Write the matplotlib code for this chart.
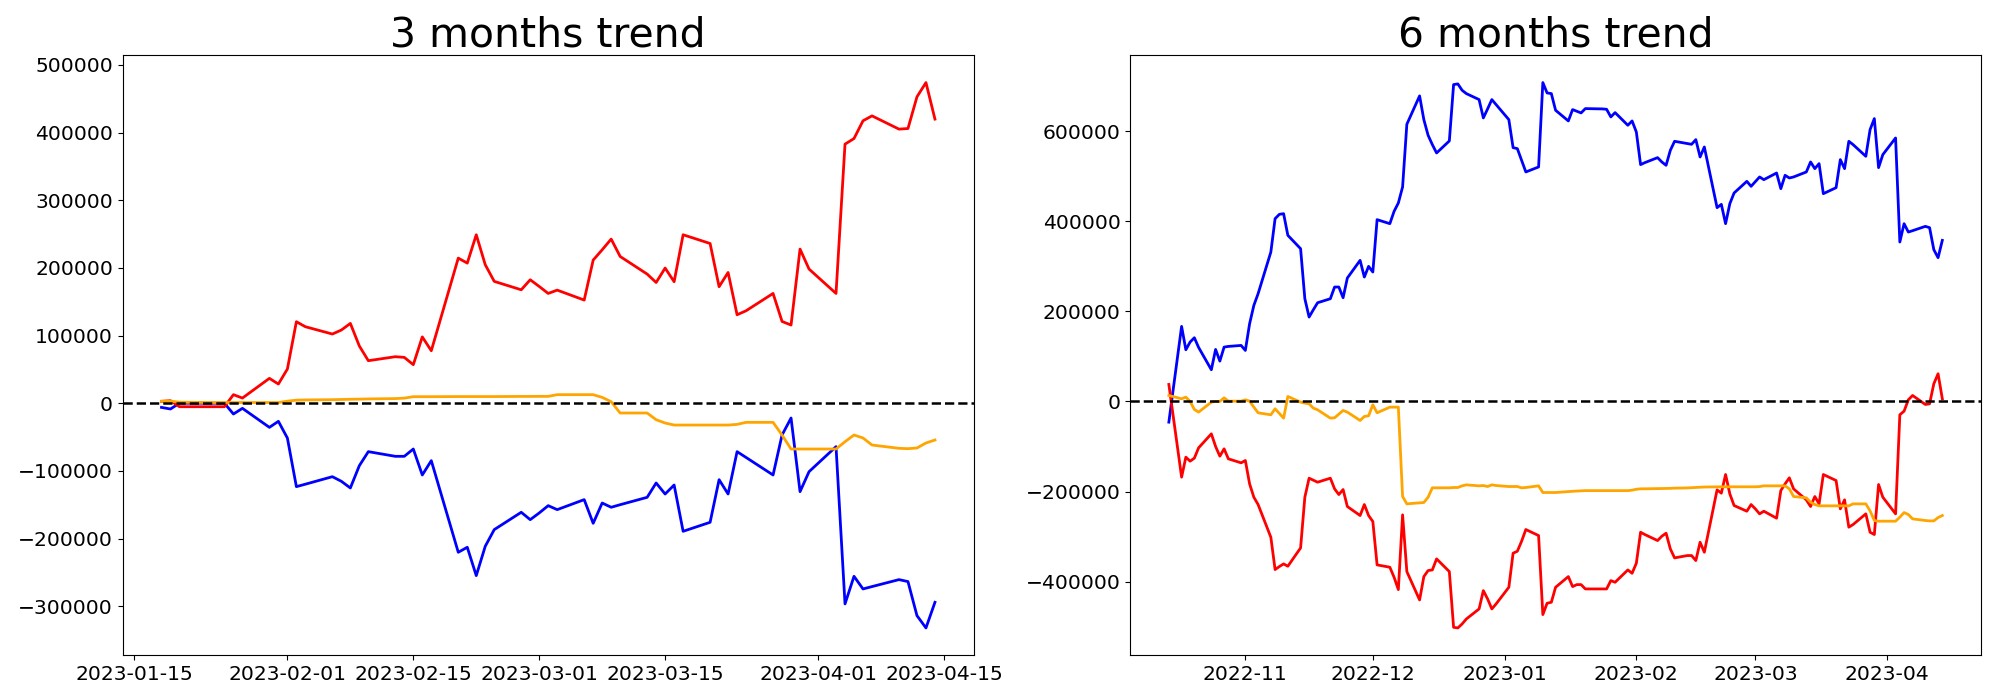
import numpy as np
import pandas as pd
import matplotlib
matplotlib.use("Agg")
import matplotlib.pyplot as plt

# business days shown in each panel
dates_3m = pd.bdate_range("2023-01-18", "2023-04-14")
dates_6m = pd.bdate_range("2022-10-14", "2023-04-14")

# 3 months window
blue_3m = [
    -6200, -8600, 0, 0, 0, 0, -16000, -7600, -35700, -26800,
    -51500, -123300, -119700, -108600, -115400, -125300, -92300, -71600, -78500, -78500,
    -67700, -106100, -84900, -220300, -212900, -254800, -211400, -186800, -161200, -172100,
    -162200, -151400, -157300, -142500, -177500, -147500, -153800, -150000, -139100, -117900,
    -134200, -120900, -189300, -176000, -113000, -134200, -71600, -80200, -106100, -47000,
    -21900, -130700, -101200, -64200, -296600, -255800, -274500, -271000, -260700, -263600,
    -313900, -332100, -294200,
]
red_3m = [
    2700, 3700, -5200, -5200, -5200, -5200, 12600, 7600, 36700, 28300,
    50500, 120400, 113000, 102200, 108100, 117900, 84500, 62800, 68700, 67700,
    56900, 98000, 77500, 214400, 207000, 248900, 204600, 180000, 167600, 182400,
    172500, 162200, 167100, 152400, 211500, 226700, 242500, 216800, 190800, 178400,
    199700, 179500, 248900, 236000, 172100, 193200, 130700, 136600, 162200, 120800,
    115500, 227700, 198200, 162200, 382800, 391100, 417300, 424600, 405000, 405900,
    452700, 473800, 419800,
]
orange_3m = [
    3000, 3000, 1500, 1000, 1000, 1000, 1000, 1000, 1000, 1000,
    3000, 4500, 4800, 5200, 5500, 5800, 6000, 6300, 6800, 7500,
    9600, 9600, 9600, 9800, 9800, 9800, 9800, 9800, 10000, 10000,
    10100, 10100, 12600, 12600, 12600, 8600, 2200, -14500, -14500, -24400,
    -29300, -32300, -32300, -32300, -32300, -32300, -31300, -28300, -28300, -47000,
    -67700, -67700, -67700, -67700, -56900, -47000, -51400, -61800, -66700, -67200,
    -66200, -58800, -54400,
]

# 6 months window
blue_6m = [
    -45900,
    166700, 114800, 131900, 141500, 120000,
    70400, 115500, 89600, 120700, 122200,
    124400, 113300, 172600, 213300, 239300,
    331800, 405900, 415500, 417000, 368900,
    339200, 228100, 187400, 203700, 219200,
    228100, 254100, 254100, 230300, 274100,
    313300, 276300, 300000, 287400, 403700,
    394800, 422200, 440700, 476300, 615500,
    678500, 625800, 591100, 570300, 551800,
    578500, 703600, 705100, 691000, 683600,
    670300, 629600, 649600, 670300, 659200,
    625800, 563600, 561400, 535500, 509600,
    520700, 708100, 685100, 683600, 646600,
    622900, 648100, 644400, 640700, 650300,
    649600, 649600, 648800, 631800, 641400,
    613300, 622900, 598400, 525900, 530300,
    541400, 531800, 524400, 557700, 577700,
    572500, 571000, 581400, 542900, 565100,
    430300, 437700, 394800, 439200, 462900,
    488800, 477700, 488100, 498500, 492500,
    507300, 472500, 502200, 496200, 498500,
    509600, 531800, 517000, 528100, 461400,
    474700, 537000, 517000, 577700, 570300,
    544400, 603600, 628100, 519200, 548100,
    585100, 354000, 394800, 376200, 379200,
    388800, 385900, 337000, 319200, 357700,
]
red_6m = [
    37800,
    -168100, -123700, -132600, -125900, -103000,
    -71900, -100000, -121500, -105200, -127400,
    -136300, -131100, -183000, -212600, -228900,
    -301500, -373300, -366600, -360700, -365900,
    -325200, -212600, -170400, -174800, -179300,
    -170400, -194100, -206700, -195600, -233300,
    -253300, -228900, -253300, -266700, -362900,
    -368100, -390400, -417800, -251800, -377800,
    -440700, -388900, -375500, -374100, -349600,
    -377800, -501500, -502900, -494100, -483000,
    -460700, -420000, -438500, -460700, -449600,
    -412600, -337000, -332600, -310400, -284400,
    -297800, -473300, -448100, -445900, -412600,
    -388900, -411100, -406700, -406700, -416300,
    -416300, -416300, -416300, -397800, -401500,
    -374100, -381500, -359200, -290400, -295500,
    -308900, -299200, -292600, -327400, -347400,
    -342200, -342200, -353300, -312600, -334800,
    -196300, -203700, -162200, -205200, -231100,
    -243700, -228900, -238500, -249600, -243700,
    -259200, -197800, -183000, -169600, -194100,
    -218500, -233300, -211100, -227400, -162200,
    -175600, -238500, -218500, -279200, -273300,
    -249600, -290400, -295500, -184400, -212600,
    -249600, -29600, -21500, 3700, 13300,
    -6700, -5200, 39300, 61500, 5900,
]
orange_6m = [
    13300,
    5900, 9600, 0, -17800, -23700,
    -1500, 0, 0, 8100, 700,
    700, 3700, 700, -12600, -25200,
    -29600, -16300, -26700, -37000, 11100,
    -1500, -3700, -5200, -14800, -18500,
    -37000, -36300, -28200, -20000, -23700,
    -42200, -33300, -31900, -7400, -25200,
    -12600, -12600, -12600, -211100, -227400,
    -225200, -224400, -212600, -191800, -191800,
    -191800, -191100, -191100, -187400, -185200,
    -187400, -186700, -188900, -185200, -186700,
    -188900, -188900, -188900, -191800, -191100,
    -187400, -202200, -202200, -202200, -202200,
    -200000, -199500, -199000, -198500, -198000,
    -198000, -198000, -198000, -198000, -198000,
    -198000, -197000, -195000, -194000, -194000,
    -193500, -193500, -193000, -193000, -192500,
    -192000, -191500, -191000, -190500, -190000,
    -189500, -189500, -189500, -189500, -189500,
    -189500, -189500, -189500, -189000, -187400,
    -187400, -187400, -187400, -194100, -211100,
    -214000, -223700, -228900, -231800, -231800,
    -231800, -231800, -231800, -231800, -227400,
    -227400, -243000, -264400, -265900, -265900,
    -265900, -257000, -246700, -251100, -260700,
    -264400, -265200, -265200, -257800, -253300,
]

fig, axes = plt.subplots(1, 2, figsize=(20, 7), dpi=100)
fig.subplots_adjust(left=0.0614, right=0.9905, bottom=0.064, top=0.921, wspace=0.184)

panels = [
    (axes[0], "3 months trend", dates_3m, blue_3m, red_3m, orange_3m),
    (axes[1], "6 months trend", dates_6m, blue_6m, red_6m, orange_6m),
]

for ax, title, dates, blue, red, orange in panels:
    ax.plot(dates, blue, color="blue", linewidth=2)
    ax.plot(dates, red, color="red", linewidth=2)
    ax.plot(dates, orange, color="orange", linewidth=2)
    ax.axhline(0, color="black", linestyle="--", linewidth=1.8)
    ax.set_title(title, fontsize=29.4)
    ax.tick_params(labelsize=14.6)

plt.savefig("out.png")
